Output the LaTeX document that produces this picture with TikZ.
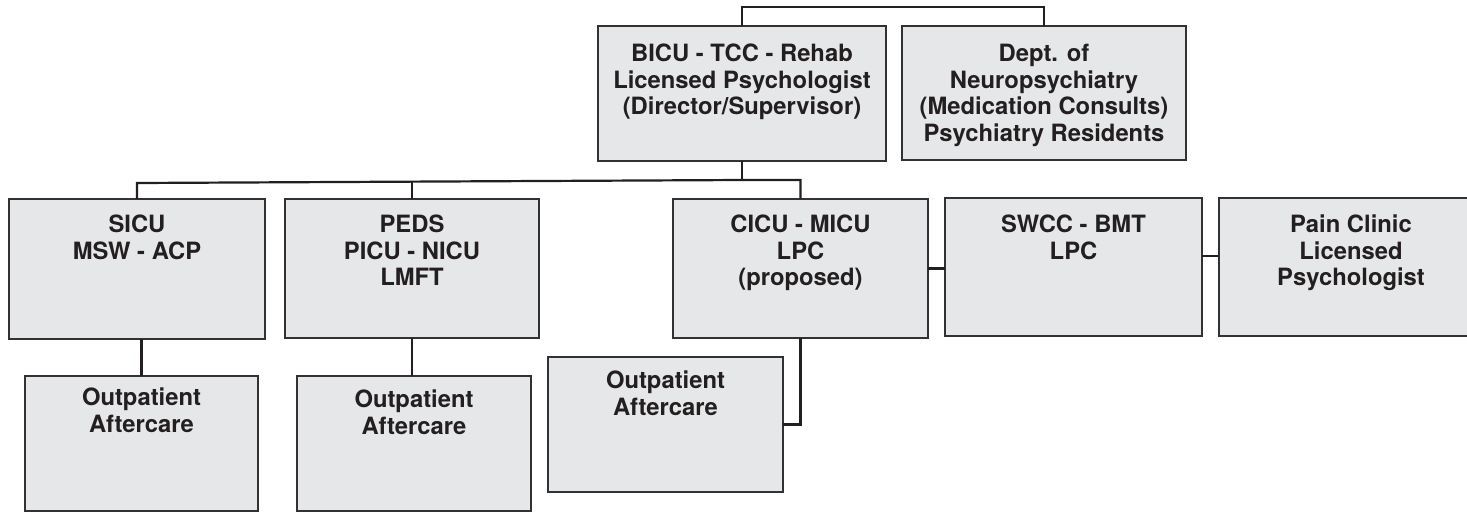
\documentclass[tikz,border=0pt]{standalone}
\usepackage{fontspec}
\setmainfont{TeX Gyre Heros}
\definecolor{boxfill}{RGB}{230,231,232}
\definecolor{boxline}{RGB}{50,50,52}
\definecolor{ink}{RGB}{35,31,32}
\newcommand\fstrut{\rule{0pt}{18pt}}
\begin{document}
\begin{tikzpicture}[x=1pt,y=-1pt,
  box/.style={draw=boxline, line width=1.4pt, fill=boxfill, rectangle, anchor=north west, inner sep=0pt, outer sep=0pt},
  txt/.style={anchor=north, align=center, inner sep=0pt, text=ink, font=\fontsize{23.8}{26.8}\selectfont\bfseries},
  conn/.style={draw=ink, line width=2.2pt, line join=miter}]
\useasboundingbox (0,0) rectangle (1467,512);
\clip (0,0) rectangle (1467,512);
% boxes
\node[box, minimum width=288pt, minimum height=135pt] (bicu) at (598,26) {};
\node[box, minimum width=284pt, minimum height=134pt] (dept) at (902,26) {};
\node[box, minimum width=256pt, minimum height=140pt] (sicu) at (9,199) {};
\node[box, minimum width=254pt, minimum height=139pt] (peds) at (285,199) {};
\node[box, minimum width=255pt, minimum height=139pt] (cicu) at (673,199) {};
\node[box, minimum width=257pt, minimum height=138pt] (swcc) at (945,198) {};
\node[box, minimum width=280pt, minimum height=138pt] (pain) at (1219,198) {};
\node[box, minimum width=233pt, minimum height=135pt] (op1) at (25,376) {};
\node[box, minimum width=234pt, minimum height=135pt] (op2) at (297,376) {};
\node[box, minimum width=235pt, minimum height=135pt] (op3) at (548,357) {};
% texts
\node[txt] (bicu-t) at ([yshift=-17pt]bicu.north) {\fstrut BICU - TCC - Rehab\\Licensed Psychologist\\(Director/Supervisor)};
\node[txt] (dept-t) at ([yshift=-17pt]dept.north) {\fstrut Dept. of\\Neuropsychiatry\\(Medication Consults)\\Psychiatry Residents};
\node[txt] (sicu-t) at ([yshift=-15pt]sicu.north) {\fstrut SICU\\MSW - ACP};
\node[txt] (peds-t) at ([yshift=-15pt]peds.north) {\fstrut PEDS\\PICU - NICU\\LMFT};
\node[txt] (cicu-t) at ([yshift=-15pt]cicu.north) {\fstrut CICU - MICU\\LPC\\(proposed)};
\node[txt] (swcc-t) at ([yshift=-16pt]swcc.north) {\fstrut SWCC - BMT\\LPC};
\node[txt] (pain-t) at ([yshift=-16pt]pain.north -| 1351,0) {\fstrut Pain Clinic\\Licensed\\Psychologist};
\node[txt] (op1-t) at ([yshift=-11pt]op1.north) {\fstrut Outpatient\\Aftercare};
\node[txt] (op2-t) at ([yshift=-13pt]op2.north) {\fstrut Outpatient\\Aftercare};
\node[txt] (op3-t) at ([yshift=-13pt]op3.north) {\fstrut Outpatient\\Aftercare};
% connector coordinates
\coordinate (topbar) at (0,7);
\coordinate (barL) at ([yshift=16pt]sicu.north);
\coordinate (barR) at ([yshift=19pt]cicu.north);
\coordinate (barM) at (bicu.south |- barR);
% connectors
\draw[conn] (bicu.north) -- (bicu.north |- topbar) -- (dept.north |- topbar) -- (dept.north);
\draw[conn] (bicu.south) -- (barM);
\draw[conn] (sicu.north) -- (barL) -- (barM) -- (barR) -- (cicu.north);
\draw[conn] (peds.north) -- ([yshift=17.4pt]peds.north);
\draw[conn] (sicu.south -| op1.north) -- (op1.north);
\draw[conn] (peds.south) -- (peds.south |- op2.north);
\draw[conn] (cicu.south) -- (cicu.south |- op3.east) -- (op3.east);
\draw[conn] (cicu.east) -- (cicu.east -| swcc.west);
\draw[conn] ([yshift=11pt]swcc.east) -- ([yshift=11pt]swcc.east -| pain.west);
\end{tikzpicture}
\end{document}
